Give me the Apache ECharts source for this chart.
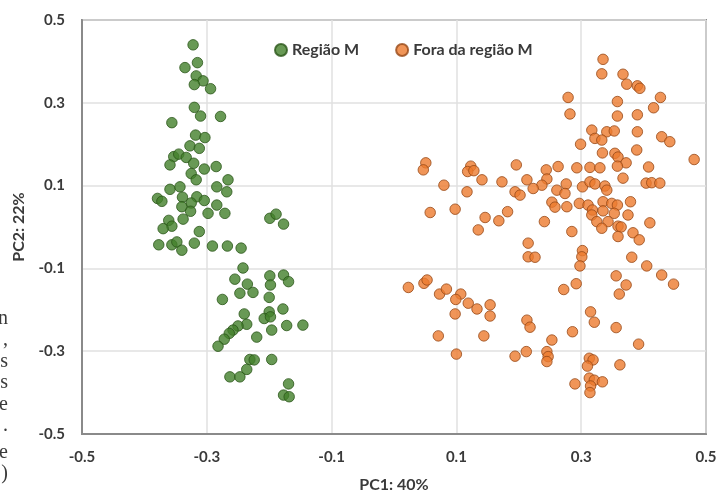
<!DOCTYPE html>
<html>
<head>
<meta charset="utf-8">
<script src="https://cdn.jsdelivr.net/npm/echarts@6/dist/echarts.min.js"></script>
<style>
  html, body { margin: 0; padding: 0; background: #fff; }
  #chart { width: 720px; height: 492px; }
</style>
</head>
<body>
<div id="chart"></div>
<script>
// ---- data ----
const seriesNames = ['Região M', 'Fora da região M'];
const xAxisName = 'PC1: 40%';
const yAxisName = 'PC2: 22%';
const xTicks = [-0.5, -0.3, -0.1, 0.1, 0.3, 0.5];
const yTicks = [-0.5, -0.3, -0.1, 0.1, 0.3, 0.5];

const regiaoM = [
  [-0.322,0.440],[-0.315,0.397],[-0.335,0.385],[-0.317,0.365],[-0.306,0.353],[-0.320,0.344],[-0.294,0.334],
  [-0.320,0.289],[-0.310,0.268],[-0.278,0.267],[-0.356,0.252],[-0.318,0.222],[-0.303,0.216],[-0.327,0.196],
  [-0.312,0.190],[-0.353,0.170],[-0.345,0.176],[-0.333,0.168],[-0.359,0.150],[-0.321,0.154],[-0.304,0.140],
  [-0.285,0.146],[-0.325,0.129],[-0.317,0.114],[-0.266,0.114],[-0.359,0.091],[-0.343,0.097],[-0.284,0.097],
  [-0.268,0.085],[-0.379,0.069],[-0.372,0.062],[-0.339,0.072],[-0.316,0.073],[-0.304,0.064],[-0.325,0.058],
  [-0.340,0.049],[-0.284,0.053],[-0.326,0.038],[-0.298,0.033],[-0.271,0.033],[-0.338,0.019],[-0.361,0.016],
  [-0.356,0.002],[-0.370,-0.004],[-0.312,-0.011],[-0.377,-0.043],[-0.356,-0.043],[-0.348,-0.036],[-0.340,-0.056],
  [-0.320,-0.039],[-0.291,-0.046],[-0.267,-0.046],[-0.245,-0.051],[-0.199,0.021],[-0.189,0.031],[-0.177,0.007],
  [-0.242,-0.099],[-0.255,-0.126],[-0.199,-0.118],[-0.177,-0.116],[-0.169,-0.132],[-0.235,-0.138],[-0.198,-0.140],
  [-0.247,-0.160],[-0.226,-0.158],[-0.275,-0.175],[-0.200,-0.170],[-0.240,-0.210],[-0.178,-0.198],[-0.200,-0.205],
  [-0.208,-0.221],[-0.198,-0.217],[-0.236,-0.235],[-0.250,-0.239],[-0.258,-0.249],[-0.172,-0.238],[-0.146,-0.237],
  [-0.196,-0.249],[-0.264,-0.257],[-0.220,-0.266],[-0.272,-0.271],[-0.282,-0.288],[-0.231,-0.320],[-0.224,-0.321],
  [-0.196,-0.320],[-0.236,-0.344],[-0.263,-0.362],[-0.247,-0.362],[-0.169,-0.379],[-0.177,-0.406],[-0.168,-0.410]
];

const foraRegiaoM = [
  [0.335,0.405],[0.333,0.370],[0.367,0.369],[0.373,0.345],[0.390,0.341],[0.394,0.335],[0.279,0.313],
  [0.358,0.303],[0.427,0.313],[0.416,0.288],[0.282,0.273],[0.358,0.268],[0.390,0.271],[0.317,0.234],
  [0.341,0.230],[0.353,0.232],[0.390,0.230],[0.322,0.214],[0.333,0.210],[0.429,0.218],[0.442,0.206],
  [0.299,0.200],[0.389,0.186],[0.334,0.179],[0.354,0.178],[0.359,0.169],[0.372,0.155],[0.481,0.163],
  [0.244,0.138],[0.263,0.146],[0.293,0.143],[0.314,0.144],[0.330,0.143],[0.358,0.147],[0.408,0.145],
  [0.245,0.116],[0.237,0.101],[0.276,0.104],[0.261,0.089],[0.274,0.081],[0.302,0.097],[0.314,0.109],
  [0.322,0.104],[0.338,0.099],[0.341,0.089],[0.367,0.118],[0.404,0.106],[0.413,0.107],[0.426,0.106],
  [0.253,0.060],[0.258,0.048],[0.277,0.049],[0.297,0.057],[0.311,0.053],[0.318,0.041],[0.335,0.061],
  [0.335,0.039],[0.349,0.057],[0.358,0.053],[0.379,0.061],[0.353,0.033],[0.317,0.029],[0.325,0.013],
  [0.343,0.013],[0.333,-0.003],[0.375,0.029],[0.410,0.010],[0.241,0.013],[0.285,-0.011],[0.359,0.002],
  [0.364,0.000],[0.359,-0.023],[0.383,-0.014],[0.393,-0.031],[0.302,-0.057],[0.301,-0.072],[0.298,-0.094],
  [0.381,-0.073],[0.405,-0.094],[0.429,-0.116],[0.448,-0.138],[0.356,-0.118],[0.372,-0.140],[0.292,-0.137],
  [0.272,-0.151],[0.051,0.155],[0.047,0.138],[0.123,0.147],[0.118,0.134],[0.128,0.136],[0.141,0.114],
  [0.080,0.101],[0.117,0.085],[0.173,0.109],[0.196,0.150],[0.058,0.035],[0.098,0.043],[0.146,0.023],
  [0.135,-0.007],[0.168,0.015],[0.182,0.037],[0.194,0.085],[0.202,0.077],[0.213,0.114],[0.223,0.093],
  [0.215,-0.039],[0.215,-0.072],[0.226,-0.073],[0.023,-0.146],[0.048,-0.136],[0.053,-0.128],[0.073,-0.162],
  [0.084,-0.150],[0.107,-0.162],[0.099,-0.175],[0.119,-0.184],[0.133,-0.198],[0.154,-0.188],[0.154,-0.215],
  [0.098,-0.210],[0.071,-0.263],[0.144,-0.263],[0.100,-0.307],[0.213,-0.225],[0.218,-0.242],[0.253,-0.273],
  [0.194,-0.312],[0.212,-0.301],[0.245,-0.301],[0.247,-0.313],[0.245,-0.325],[0.361,-0.162],[0.315,-0.205],
  [0.321,-0.230],[0.286,-0.253],[0.356,-0.243],[0.392,-0.283],[0.313,-0.317],[0.319,-0.321],[0.310,-0.336],
  [0.362,-0.333],[0.313,-0.365],[0.321,-0.370],[0.334,-0.374],[0.290,-0.379],[0.315,-0.384],[0.314,-0.400]
];

// clipped fragments of neighbouring page text at the left edge
const marginFragments = ['n', ',', 's', 's', 'e', '.', 'e', ')'];

// ---- chart ----
const chart = echarts.init(document.getElementById('chart'), null, { renderer: 'canvas' });
const labelColor = '#3a3a3a';
const fontFamily = 'Lato, "Open Sans", sans-serif';

function axisCommon(ticks, name, isX) {
  return {
    type: 'value',
    min: ticks[0],
    max: ticks[ticks.length - 1],
    name: name,
    nameLocation: 'middle',
    nameGap: isX ? 43 : 55,
    nameTextStyle: { color: labelColor, fontWeight: 'bold', fontSize: 16, fontFamily: fontFamily },
    axisLine: { show: true, onZero: false, lineStyle: { color: '#8a8a8a', width: 2 } },
    axisTick: { show: false, customValues: ticks },
    axisLabel: {
      customValues: ticks,
      color: labelColor, fontWeight: 'bold', fontSize: 15, fontFamily: fontFamily,
      margin: isX ? 16 : 17,
      formatter: v => (Math.round(v * 10) / 10).toString()
    },
    splitLine: { show: true, lineStyle: { color: '#e1e1e1', width: 1.5 } }
  };
}

const fragY = [319, 340, 362, 383, 405, 426, 453, 474];
const graphics = marginFragments.map((t, i) => ({
  type: 'text',
  x: 8,
  y: fragY[i],
  style: { text: t, font: '20px "Liberation Serif", serif', fill: '#3a3a3a', align: 'right', verticalAlign: 'middle' }
}));

chart.setOption({
  animation: false,
  backgroundColor: '#ffffff',
  grid: {
    left: 82, right: 14, top: 20, bottom: 58,
    outerBoundsMode: 'none', containLabel: false,
    show: true, borderColor: '#8a8a8a', borderWidth: 2
  },
  legend: {
    top: 37, left: 269,
    itemWidth: 12, itemHeight: 12, itemGap: 36,
    icon: 'circle',
    textStyle: { color: labelColor, fontWeight: 'bold', fontSize: 16, fontFamily: fontFamily },
    data: seriesNames
  },
  xAxis: axisCommon(xTicks, xAxisName, true),
  yAxis: axisCommon(yTicks, yAxisName, false),
  series: [
    {
      name: seriesNames[0], type: 'scatter', data: regiaoM, symbolSize: 10.5,
      itemStyle: { color: '#42802a', borderColor: '#2a5619', borderWidth: 1 }
    },
    {
      name: seriesNames[1], type: 'scatter', data: foraRegiaoM, symbolSize: 10.5,
      itemStyle: { color: '#ec7a2e', borderColor: '#974816', borderWidth: 1 }
    }
  ],
  graphic: graphics
});
</script>
</body>
</html>
